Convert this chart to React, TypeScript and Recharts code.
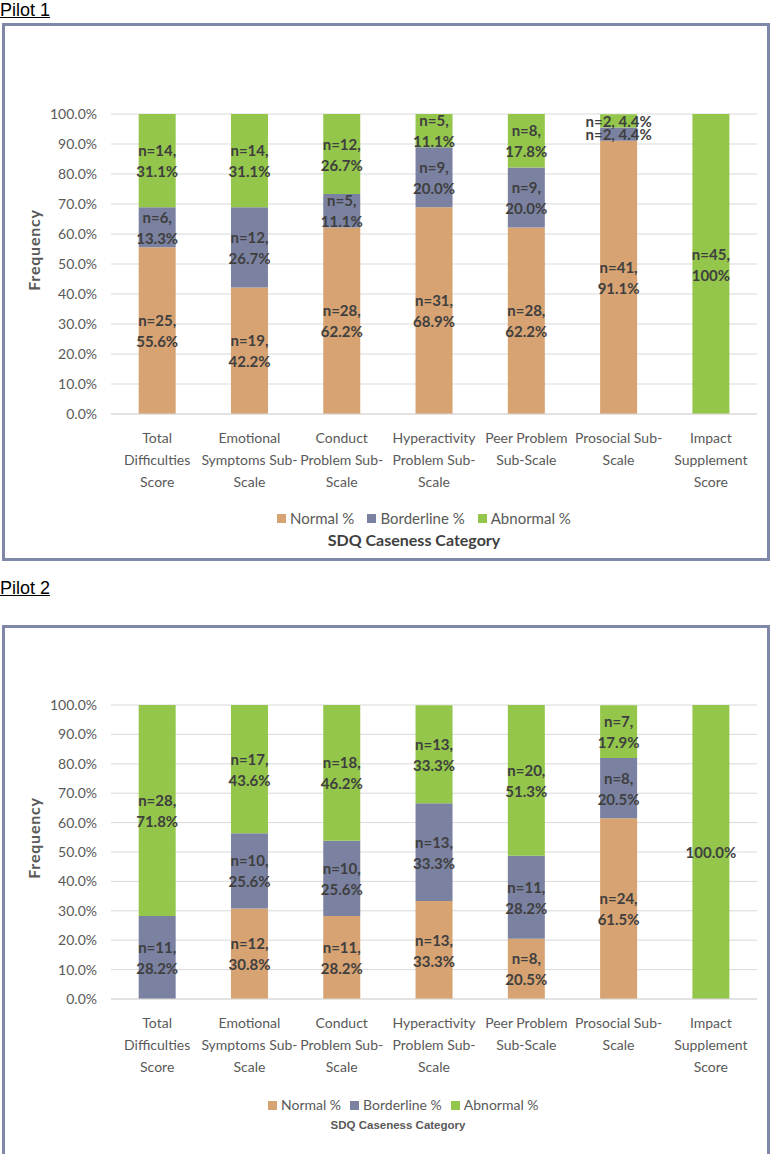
import React from "react";
import { BarChart, Bar, XAxis, YAxis, CartesianGrid, Legend, LabelList } from "recharts";

const categories = [
  "Total Difficulties Score",
  "Emotional Symptoms Sub-Scale",
  "Conduct Problem Sub-Scale",
  "Hyperactivity Problem Sub-Scale",
  "Peer Problem Sub-Scale",
  "Prosocial Sub-Scale",
  "Impact Supplement Score",
];

// wrapped the way the original axis wraps them
const tickLines = [
  ["Total", "Difficulties", "Score"],
  ["Emotional", "Symptoms Sub-", "Scale"],
  ["Conduct", "Problem Sub-", "Scale"],
  ["Hyperactivity", "Problem Sub-", "Scale"],
  ["Peer Problem", "Sub-Scale"],
  ["Prosocial Sub-", "Scale"],
  ["Impact", "Supplement", "Score"],
];

const yTicks = [0, 10, 20, 30, 40, 50, 60, 70, 80, 90, 100];

const seriesNames = ["Normal %", "Borderline %", "Abnormal %"];

// Pilot 1
const p1Normal = [55.6, 42.2, 62.2, 68.9, 62.2, 91.1, 0];
const p1Borderline = [13.3, 26.7, 11.1, 20.0, 20.0, 4.4, 0];
const p1Abnormal = [31.1, 31.1, 26.7, 11.1, 17.8, 4.4, 100];
const p1NormalLabels = ["n=25, 55.6%", "n=19, 42.2%", "n=28, 62.2%", "n=31, 68.9%", "n=28, 62.2%", "n=41, 91.1%", ""];
const p1BorderlineLabels = ["n=6, 13.3%", "n=12, 26.7%", "n=5, 11.1%", "n=9, 20.0%", "n=9, 20.0%", "n=2, 4.4%", ""];
const p1AbnormalLabels = ["n=14, 31.1%", "n=14, 31.1%", "n=12, 26.7%", "n=5, 11.1%", "n=8, 17.8%", "n=2, 4.4%", "n=45, 100%"];

// Pilot 2
const p2Normal = [0, 30.8, 28.2, 33.3, 20.5, 61.5, 0];
const p2Borderline = [28.2, 25.6, 25.6, 33.3, 28.2, 20.5, 0];
const p2Abnormal = [71.8, 43.6, 46.2, 33.3, 51.3, 17.9, 100];
const p2NormalLabels = ["", "n=12, 30.8%", "n=11, 28.2%", "n=13, 33.3%", "n=8, 20.5%", "n=24, 61.5%", ""];
const p2BorderlineLabels = ["n=11, 28.2%", "n=10, 25.6%", "n=10, 25.6%", "n=13, 33.3%", "n=11, 28.2%", "n=8, 20.5%", ""];
const p2AbnormalLabels = ["n=28, 71.8%", "n=17, 43.6%", "n=18, 46.2%", "n=13, 33.3%", "n=20, 51.3%", "n=7, 17.9%", "100.0%"];

const COLORS = ["#d7a373", "#7b82a1", "#93c64b"];
const FONT = "Lato, 'Open Sans', sans-serif";
const GREY = "#595959";
const KEYS = ["normal", "borderline", "abnormal"];

const buildRows = (vals: number[][], labels: string[][]) =>
  categories.map((c, i) => ({
    category: c,
    normal: vals[0][i],
    borderline: vals[1][i],
    abnormal: vals[2][i],
    normalLabel: labels[0][i],
    borderlineLabel: labels[1][i],
    abnormalLabel: labels[2][i],
  }));

const pilot1Rows = buildRows([p1Normal, p1Borderline, p1Abnormal], [p1NormalLabels, p1BorderlineLabels, p1AbnormalLabels]);
const pilot2Rows = buildRows([p2Normal, p2Borderline, p2Abnormal], [p2NormalLabels, p2BorderlineLabels, p2AbnormalLabels]);

// segment label: "n=.., ..%" on two lines, or one line if the segment is thin
const SegmentLabel = (props: any) => {
  const vb = props.viewBox || props;
  const x = vb.x ?? props.x;
  const y = vb.y ?? props.y;
  const w = vb.width ?? props.width;
  const h = vb.height ?? props.height;
  const text = props.value;
  if (!text) return null;
  const cx = x + w / 2;
  const cy = y + h / 2;
  const parts = String(text).split(", ");
  const style = { fill: "#3f3f3f", fontSize: 15, fontWeight: 700, fontFamily: FONT };
  if (Math.abs(h) < 30 || parts.length < 2) {
    return (
      <text x={cx} y={cy} textAnchor="middle" dominantBaseline="central" {...style}>
        {text}
      </text>
    );
  }
  return (
    <g>
      <text x={cx} y={cy - 10.5} textAnchor="middle" dominantBaseline="central" {...style}>
        {parts[0] + ","}
      </text>
      <text x={cx} y={cy + 10.5} textAnchor="middle" dominantBaseline="central" {...style}>
        {parts[1]}
      </text>
    </g>
  );
};

const CategoryTick = (props: any) => {
  const { x, y, payload } = props;
  const lines = tickLines[categories.indexOf(payload.value)] || [payload.value];
  return (
    <g transform={`translate(${x},${y})`}>
      {lines.map((line, i) => (
        <text key={i} x={0} y={21 + i * 22} textAnchor="middle" fill={GREY} fontSize={14} fontFamily={FONT}>
          {line}
        </text>
      ))}
    </g>
  );
};

const FrequencyLabel = (props: any) => {
  const vb = props.viewBox;
  const lx = vb.x + 28;
  const ly = vb.y + vb.height / 2 - 14;
  return (
    <text
      x={lx}
      y={ly}
      transform={`rotate(-90, ${lx}, ${ly})`}
      textAnchor="middle"
      dominantBaseline="central"
      fill={GREY}
      fontSize={16}
      fontWeight={700}
      letterSpacing={0.8}
      fontFamily={FONT}
    >
      Frequency
    </text>
  );
};

interface PanelProps {
  rows: any[];
  height: number;
  top: number;
  bottom: number;
  axisHeight: number;
  legendStart: number;
  legendGap: number;
  legendFont: number;
  captionCenter: number;
  captionStyle: React.CSSProperties;
  captionLine: number;
}

const WIDTH = 762;

function SdqPanel(p: PanelProps) {
  const LegendBox = () => (
    <div style={{ height: 50, width: WIDTH, position: "relative" }}>
      <div style={{ display: "flex", alignItems: "center", height: 20, paddingLeft: p.legendStart, gap: p.legendGap }}>
        {seriesNames.map((name, i) => (
          <div key={name} style={{ display: "flex", alignItems: "center", gap: 4 }}>
            <span style={{ width: 9, height: 9, background: COLORS[i], display: "block" }} />
            <span style={{ fontFamily: FONT, fontSize: p.legendFont, color: GREY, lineHeight: "20px" }}>{name}</span>
          </div>
        ))}
      </div>
      <div
        style={{
          position: "absolute",
          top: 22,
          left: p.captionCenter - 200,
          width: 400,
          textAlign: "center",
          lineHeight: `${p.captionLine}px`,
          ...p.captionStyle,
        }}
      >
        SDQ Caseness Category
      </div>
    </div>
  );

  return (
    <BarChart
      width={WIDTH}
      height={p.height}
      data={p.rows}
      margin={{ top: p.top, right: 10, left: 0, bottom: p.bottom }}
      barCategoryGap="30%"
    >
      <CartesianGrid vertical={false} stroke="#d9d9d9" />
      <XAxis
        dataKey="category"
        interval={0}
        height={p.axisHeight}
        tick={<CategoryTick />}
        tickLine={false}
        axisLine={{ stroke: "#d9d9d9" }}
      />
      <YAxis
        domain={[0, 100]}
        ticks={yTicks}
        width={106}
        tickMargin={8}
        tickFormatter={(v: number) => `${v.toFixed(1)}%`}
        tick={{ fill: GREY, fontSize: 14, fontFamily: FONT }}
        axisLine={false}
        tickLine={false}
        label={FrequencyLabel}
      />
      <Legend verticalAlign="bottom" content={() => <LegendBox />} wrapperStyle={{ left: 0, width: WIDTH, bottom: p.bottom }} />
      {KEYS.map((k, i) => (
        <Bar key={k} dataKey={k} name={seriesNames[i]} stackId="sdq" fill={COLORS[i]} isAnimationActive={false}>
          <LabelList dataKey={`${k}Label`} content={SegmentLabel} />
        </Bar>
      ))}
    </BarChart>
  );
}

const headingStyle: React.CSSProperties = {
  position: "absolute",
  left: 0,
  fontFamily: "'Liberation Sans', Arial, sans-serif",
  fontSize: 18,
  lineHeight: "20px",
  textDecoration: "underline",
  color: "#000",
};

const boxStyle: React.CSSProperties = {
  position: "absolute",
  left: 2,
  width: 768,
  boxSizing: "border-box",
  border: "3px solid #7f88a8",
  background: "#fff",
  overflow: "hidden",
};

export default function App() {
  return (
    <div style={{ position: "absolute", left: 0, top: 0, width: 772, height: 1154, background: "#fff", overflow: "hidden" }}>
      <div style={{ ...headingStyle, top: 0 }}>Pilot 1</div>
      <div style={{ ...boxStyle, top: 23, height: 538 }}>
        <SdqPanel
          rows={pilot1Rows}
          height={532}
          top={88}
          bottom={0}
          axisHeight={94}
          legendStart={272}
          legendGap={13}
          legendFont={15}
          captionCenter={409}
          captionLine={20}
          captionStyle={{ fontFamily: FONT, fontWeight: 700, fontSize: 16, color: "#404040" }}
        />
      </div>

      <div style={{ ...headingStyle, top: 578 }}>Pilot 2</div>
      <div style={{ ...boxStyle, top: 625, height: 532 }}>
        <SdqPanel
          rows={pilot2Rows}
          height={524}
          top={77}
          bottom={7}
          axisHeight={96}
          legendStart={263}
          legendGap={9}
          legendFont={14}
          captionCenter={393}
          captionLine={16}
          captionStyle={{ fontFamily: "'Liberation Sans', Arial, sans-serif", fontWeight: 700, fontSize: 11.5, color: GREY }}
        />
      </div>
    </div>
  );
}
